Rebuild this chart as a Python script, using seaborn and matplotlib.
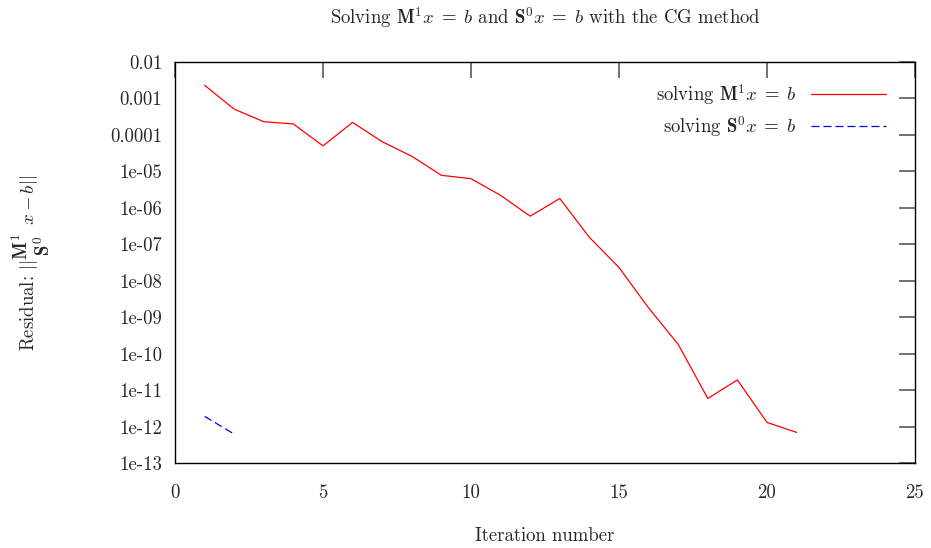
import numpy as np
import pandas as pd
import matplotlib
matplotlib.use("Agg")
import matplotlib.pyplot as plt
import seaborn as sns

iters_m = [1, 2, 3, 4, 5, 6, 7, 8, 9, 10, 11, 12, 13, 14, 15, 16, 17, 18, 19, 20, 21]
resid_m = [2.3e-3, 5.1e-4, 2.3e-4, 2.0e-4, 5.0e-5, 2.2e-4, 6.5e-5, 2.6e-5, 7.8e-6, 6.3e-6,
           2.2e-6, 5.9e-7, 1.8e-6, 1.55e-7, 2.3e-8, 1.8e-9, 1.8e-10, 5.9e-12, 1.9e-11, 1.3e-12, 6.9e-13]
iters_s = [1, 2]
resid_s = [1.9e-12, 6.2e-13]

y_ticks = [1e-2, 1e-3, 1e-4, 1e-5, 1e-6, 1e-7, 1e-8, 1e-9, 1e-10, 1e-11, 1e-12, 1e-13]
y_labels = ["0.01", "0.001", "0.0001", "1e-05", "1e-06", "1e-07", "1e-08", "1e-09",
            "1e-10", "1e-11", "1e-12", "1e-13"]
x_ticks = [0, 5, 10, 15, 20, 25]

label_m = r"solving $\mathbf{M}^1x\;=\;b$"
label_s = r"solving $\mathbf{S}^0x\;=\;b$"

sns.set_style("white")
plt.rcParams["font.family"] = ["cmr10", "DejaVu Serif"]
plt.rcParams["mathtext.fontset"] = "cm"
plt.rcParams["axes.formatter.use_mathtext"] = True

FS = 13.5

df_m = pd.DataFrame({"it": iters_m, "res": resid_m})
df_s = pd.DataFrame({"it": iters_s, "res": resid_s})

fig = plt.figure(figsize=(9.31, 5.48), dpi=100)
ax = fig.add_axes([175/931, 1-463/548, (915-175)/931, (463-62)/548])

sns.lineplot(data=df_m, x="it", y="res", ax=ax, color="#ff0000", lw=0.9, label=label_m)
sns.lineplot(data=df_s, x="it", y="res", ax=ax, color="#0000ff", lw=0.9, label=label_s,
             dashes=False, linestyle=(0, (6.4, 3.2)))

ax.set_yscale("log")
ax.set_xlim(0, 25)
ax.set_ylim(1e-13, 1e-2)
ax.set_yticks(y_ticks)
ax.set_yticklabels(y_labels)
ax.yaxis.set_minor_locator(matplotlib.ticker.NullLocator())
ax.set_xticks(x_ticks)
ax.set_xticklabels([str(v) for v in x_ticks])

ax.tick_params(axis="both", which="major", direction="in", length=11.5, width=1.3,
               color="#666666", top=True, right=True, labelsize=FS)
ax.tick_params(axis="y", pad=9)
ax.tick_params(axis="x", pad=15)
for s in ax.spines.values():
    s.set_color("black")
    s.set_linewidth(1.0)

ax.set_title(r"Solving $\mathbf{M}^1x\;=\;b$ and $\mathbf{S}^0x\;=\;b$ with the CG method",
             fontsize=FS, y=(463-18)/401, va="center", pad=0)
ax.set_xlabel("Iteration number", fontsize=FS, va="center")
ax.xaxis.set_label_coords(0.5, (463-536)/401)
ax.set_ylabel(r"Residual: $||\genfrac{}{}{0}{0}{\mathbf{M}^1}{\mathbf{S}^0}\ x - b||$",
              fontsize=FS, va="center")
ax.yaxis.set_label_coords((31-175)/740, 0.5)

leg = ax.legend(loc="upper right", bbox_to_anchor=((886-175)/740, (463-82)/401),
                frameon=False, markerfirst=False, fontsize=FS,
                handlelength=4.0, handletextpad=0.8, borderaxespad=0, borderpad=0,
                labelspacing=0.35)

fig.savefig("out.png", dpi=100)
